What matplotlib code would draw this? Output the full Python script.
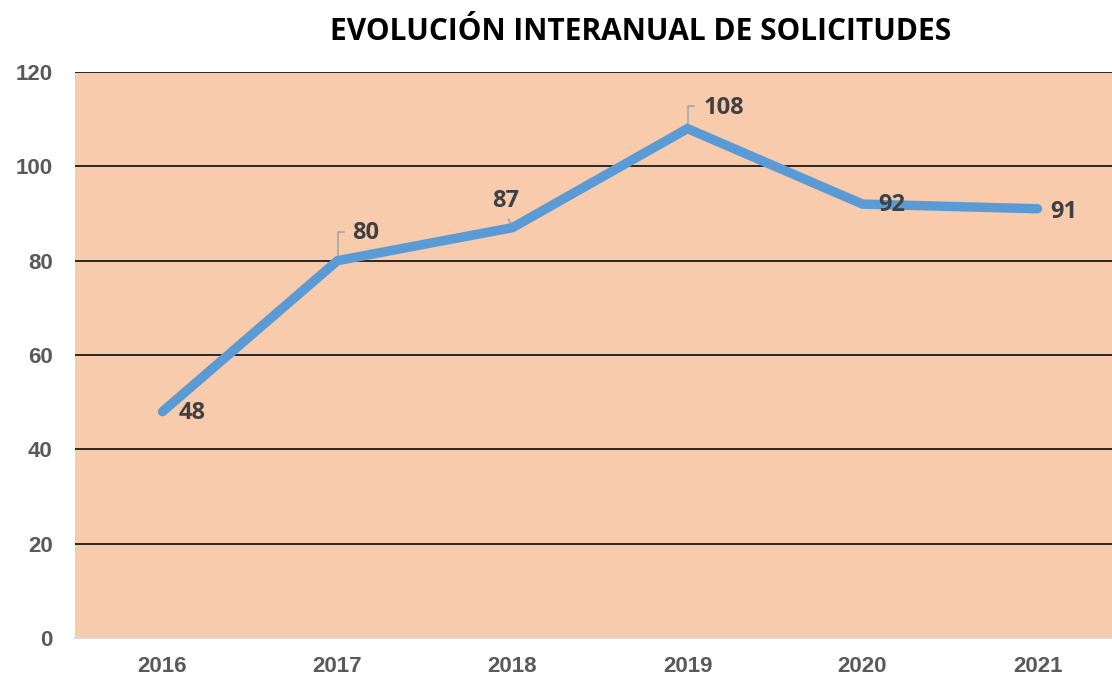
import matplotlib
matplotlib.use("Agg")
import matplotlib.pyplot as plt

years = ["2016", "2017", "2018", "2019", "2020", "2021"]
solicitudes = [48, 80, 87, 108, 92, 91]
y_ticks = [0, 20, 40, 60, 80, 100, 120]
title = "EVOLUCIÓN INTERANUAL DE SOLICITUDES"

# label offsets in points (dx, dy) and whether a leader line is drawn
label_offsets = [(21, -1), (20, 20), (-5, 19), (26, 15), (21, -1), (19, -2)]
leaders = [False, True, True, True, False, False]

W, H = 1112, 675
PX = 100 / 72  # pixels per point
fig = plt.figure(figsize=(W / 100, H / 100), dpi=100)
fig.patch.set_facecolor("white")

left, right, top, bottom = 75, 1125, 72, 638
ax = fig.add_axes([left / W, 1 - bottom / H, (right - left) / W, (bottom - top) / H])
ax.set_facecolor("#F8CBAD")

x = list(range(len(years)))
ax.set_xlim(-0.5, len(years) - 0.5)
ax.set_ylim(0, 120)

ax.set_yticks(y_ticks)
for v in y_ticks[1:]:
    ax.axhline(v, color="#1a1a1a", lw=1.3, zorder=1)
ax.axhline(0, color="#D9D9D9", lw=1.5, zorder=1, clip_on=False)

for s in ax.spines.values():
    s.set_visible(False)

ax.plot(x, solicitudes, color="#5B9BD5", lw=6.8, solid_capstyle="round",
        solid_joinstyle="miter", zorder=3)

ax.set_xticks(x)
ax.set_xticklabels(years)
ax.tick_params(axis="both", length=0, labelcolor="#595959")
ax.tick_params(axis="x", pad=13)
ax.tick_params(axis="y", pad=16)
for lab in ax.get_xticklabels() + ax.get_yticklabels():
    lab.set_fontfamily("Liberation Sans")
    lab.set_fontweight("bold")
    lab.set_fontsize(16)

for xi, v, (dx, dy) in zip(x, solicitudes, label_offsets):
    ax.annotate(str(v), xy=(xi, v), xytext=(dx, dy), textcoords="offset points",
                ha="center", va="center", fontsize=17, fontweight="bold",
                fontfamily="Open Sans", color="#404040", zorder=4)

# leader lines for labels placed above the points
inv = ax.transData.inverted()
for xi, v, lead, (dx, dy) in zip(x, solicitudes, leaders, label_offsets):
    if not lead:
        continue
    if dx > 0:
        path_pts = [(0, 3), (0, dy + 1), (5, dy + 1)]
    else:
        path_pts = [(-1, 3), (-3, 6)]
    base = ax.transData.transform((xi, v))
    data = [inv.transform((base[0] + a * PX, base[1] + b * PX)) for a, b in path_pts]
    ax.plot([d[0] for d in data], [d[1] for d in data], color="#A6A6A6", lw=1.2,
            zorder=2.5, clip_on=False)

fig.text(641 / W, 1 - 32 / H, title, ha="center", va="center", fontsize=21.5,
         fontweight="bold", fontfamily="Open Sans", color="black")

fig.savefig("out.png", dpi=100, facecolor="white")
